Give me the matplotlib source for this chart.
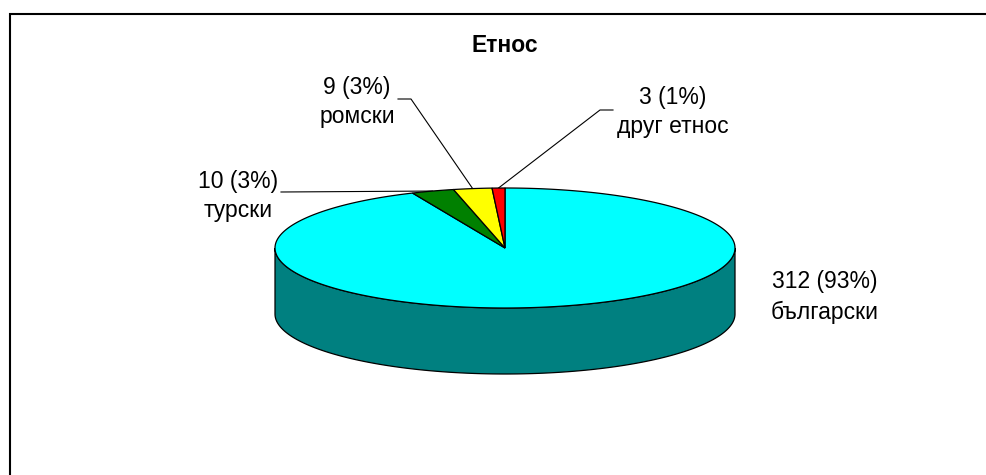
import numpy as np
import matplotlib.pyplot as plt
from matplotlib.patches import Polygon

plt.rcParams['font.family'] = ['Liberation Sans', 'DejaVu Sans']

# Ethnic groups, drawn clockwise from 12 o'clock
groups = ['български', 'турски', 'ромски', 'друг етнос']
counts = [312, 10, 9, 3]
top_colors = ['#00FFFF', '#008000', '#FFFF00', '#FF0000']
side_colors = ['#008080', '#004000', '#808000', '#800000']
title = 'Етнос'

# pie geometry in pixels
cx, cy = 505, 248
rx, ry = 230, 60
depth = 66

# label centres (text) and elbow points of leader lines
label_pos = [(825, 297), (238, 196), (357, 102), (673, 112)]
leader_start = [None, (281, 192), [(398, 99), (411, 99)], [(613, 110), (600, 110)]]

fig = plt.figure(figsize=(9.86, 4.75), dpi=100)
ax = fig.add_axes([0, 0, 1, 1])
ax.set_xlim(0, 986)
ax.set_ylim(475, 0)
ax.axis('off')

# chart frame (right and bottom edges run off the image)
ax.plot([9.5, 9.5, 1000], [480, 13.5, 13.5], color='black', lw=1.5,
        solid_joinstyle='miter', zorder=1)


def ell(theta_deg, dy=0):
    t = np.radians(theta_deg)
    return cx + rx * np.cos(t), cy - ry * np.sin(t) + dy


total = sum(counts)
fracs = np.array(counts) / total
# start at 90 deg and go clockwise
ends = 90 - 360 * np.cumsum(fracs)
starts = np.concatenate([[90], ends[:-1]])

# leader lines sit under the pie
for i, (s, e) in enumerate(zip(starts, ends)):
    if leader_start[i] is None:
        continue
    mid = (s + e) / 2
    px, py = ell(mid)
    pts = leader_start[i] if isinstance(leader_start[i], list) else [leader_start[i]]
    xs = [p[0] for p in pts] + [px]
    ys = [p[1] for p in pts] + [py]
    ax.plot(xs, ys, color='black', lw=0.8, zorder=2)

# side wall: front half of each wedge (angles between 180 and 360)
for s, e, col in zip(starts, ends, side_colors):
    lo, hi = min(s, e), max(s, e)
    a0 = max(lo, -180)
    a1 = min(hi, 0)
    if a1 <= a0:
        continue
    th = np.linspace(a0, a1, 200)
    xt, yt = ell(th)
    xb, yb = ell(th[::-1], depth)
    poly = np.column_stack([np.concatenate([xt, xb]), np.concatenate([yt, yb])])
    ax.add_patch(Polygon(poly, closed=True, facecolor=col, edgecolor='black',
                         lw=0.9, zorder=3))

# top face
for s, e, col in zip(starts, ends, top_colors):
    th = np.linspace(s, e, max(int(abs(s - e) * 2), 10))
    xs, ys = ell(th)
    poly = np.column_stack([np.concatenate([[cx], xs]), np.concatenate([[cy], ys])])
    ax.add_patch(Polygon(poly, closed=True, facecolor=col, edgecolor='black',
                         lw=0.9, zorder=4))

# data labels
for (lx, ly), name, n in zip(label_pos, groups, counts):
    pct = round(n / total * 100)
    ax.text(lx, ly, f'{n} ({pct}%)\n{name}', ha='center', va='center',
            fontsize=16.5, linespacing=1.38, zorder=5)

ax.text(505, 45, title, ha='center', va='center', fontsize=16.5,
        fontweight='bold', zorder=5)

fig.savefig('out.png', dpi=100)
